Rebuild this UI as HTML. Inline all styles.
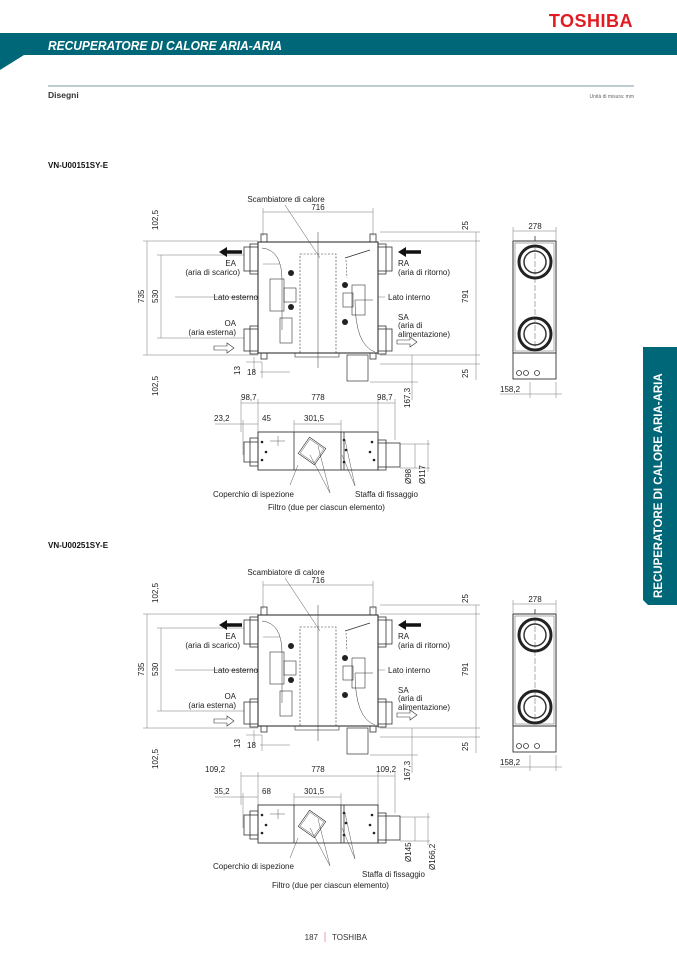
<!DOCTYPE html>
<html><head><meta charset="utf-8">
<style>
html,body{margin:0;padding:0;background:#fff;}
body{width:677px;height:958px;position:relative;overflow:hidden;font-family:"Liberation Sans",sans-serif;}
svg{position:absolute;left:0;top:0;}
</style></head><body>
<svg width="677" height="958" viewBox="0 0 677 958" xmlns="http://www.w3.org/2000/svg" font-family="Liberation Sans, sans-serif">
<defs>
  <g id="unit" stroke="#333" fill="none" stroke-width="0.8">
    <g stroke="#777" stroke-width="0.5">
      <line x1="263" y1="212" x2="373" y2="212"/>
      <line x1="263" y1="208" x2="263" y2="236"/><line x1="373" y1="208" x2="373" y2="236"/>
      <line x1="147" y1="241" x2="147" y2="355"/>
      <line x1="161" y1="255" x2="161" y2="338"/>
      <line x1="143" y1="241" x2="258" y2="241"/><line x1="143" y1="355" x2="258" y2="355"/>
      <line x1="157" y1="255" x2="244" y2="255"/><line x1="157" y1="338" x2="244" y2="338"/>
      <line x1="476" y1="232" x2="476" y2="380"/>
      <line x1="380" y1="232" x2="480" y2="232"/><line x1="380" y1="241" x2="480" y2="241"/>
      <line x1="380" y1="355" x2="480" y2="355"/><line x1="380" y1="364" x2="480" y2="364"/>
      <line x1="254" y1="357" x2="254" y2="372"/><line x1="246" y1="362" x2="262" y2="362"/>
      <line x1="260" y1="372" x2="290" y2="372"/><line x1="262" y1="362" x2="262" y2="378"/>
      <line x1="412" y1="355" x2="412" y2="400"/><line x1="370" y1="382" x2="418" y2="382"/>
      <line x1="263" y1="264" x2="280" y2="264"/>
      <line x1="175" y1="297" x2="258" y2="297"/>
      <line x1="378" y1="297" x2="385" y2="297"/>
      <line x1="241" y1="403" x2="395" y2="403"/>
      <line x1="241" y1="399" x2="241" y2="432"/><line x1="258" y1="399" x2="258" y2="432"/>
      <line x1="378" y1="399" x2="378" y2="432"/><line x1="395" y1="399" x2="395" y2="440"/>
      <line x1="215" y1="424" x2="258" y2="424"/><line x1="294" y1="424" x2="341" y2="424"/>
      <line x1="294" y1="420" x2="294" y2="432"/><line x1="341" y1="420" x2="341" y2="432"/>
      <line x1="243" y1="420" x2="243" y2="455"/>
      <line x1="400" y1="444" x2="430" y2="444"/><line x1="400" y1="468" x2="430" y2="468"/>
      <line x1="415" y1="444" x2="415" y2="468"/><line x1="428" y1="440" x2="428" y2="472"/>
    </g>
    <g stroke="#555" stroke-width="0.5">
      <line x1="285" y1="205" x2="320" y2="258"/>
      <line x1="290" y1="485" x2="298" y2="465"/>
      <line x1="330" y1="493" x2="310" y2="455"/><line x1="330" y1="493" x2="318" y2="446"/>
      <line x1="355" y1="486" x2="342" y2="455"/><line x1="355" y1="486" x2="345" y2="440"/>
    </g>
    <rect x="258" y="242" width="120" height="111" stroke-width="1.1"/>
    <rect x="261" y="234" width="6" height="8"/><rect x="370" y="234" width="6" height="8"/>
    <rect x="261" y="353" width="6" height="6"/><rect x="370" y="353" width="6" height="6"/>
    <rect x="244" y="247" width="14" height="24"/><rect x="250" y="244" width="8" height="30"/>
    <rect x="244" y="329" width="14" height="22"/><rect x="250" y="326" width="8" height="28"/>
    <rect x="378" y="247" width="14" height="24"/><rect x="378" y="244" width="8" height="30"/>
    <rect x="378" y="329" width="14" height="22"/><rect x="378" y="326" width="8" height="28"/>
    <rect x="300" y="254" width="36" height="99" stroke-dasharray="2,1.5" stroke-width="0.6"/>
    <line x1="318" y1="232" x2="318" y2="368" stroke-width="0.5"/>
    <path d="M262,248 Q282,250 282,280 L282,330" stroke-width="0.5"/>
    <path d="M373,300 L355,300 Q355,345 375,352" stroke-width="0.5"/>
    <rect x="270" y="279" width="14" height="32" stroke-width="0.6"/>
    <rect x="284" y="288" width="12" height="14" stroke-width="0.6"/>
    <rect x="280" y="318" width="12" height="25" stroke-width="0.6"/>
    <rect x="352" y="285" width="13" height="30" stroke-width="0.6"/>
    <rect x="343" y="293" width="10" height="14" stroke-width="0.6"/>
    <line x1="345" y1="258" x2="370" y2="250"/>
    <path d="M346,260 L347,278" stroke-dasharray="2,1.5" stroke-width="0.5"/>
    <g fill="#222" stroke="none">
      <circle cx="291" cy="273" r="3"/><circle cx="291" cy="307" r="3"/>
      <circle cx="345" cy="285" r="3"/><circle cx="345" cy="322" r="3"/>
    </g>
    <rect x="295" y="353" width="44" height="4" stroke-width="0.6"/>
    <rect x="347" y="355" width="21" height="26" stroke-width="0.7"/>
    <path d="M242,252 L226,252" stroke="#111" stroke-width="3.5"/>
    <path d="M219,252 L227,247 L227,257 Z" fill="#111" stroke="none"/>
    <path d="M405,252 L421,252" stroke="#111" stroke-width="3.5"/>
    <path d="M398,252 L406,247 L406,257 Z" fill="#111" stroke="none"/>
    <path d="M214,346 L227,346 L227,343 L234,348 L227,353 L227,350 L214,350 Z" stroke-width="0.6"/>
    <path d="M397,340 L410,340 L410,337 L417,342 L410,347 L410,344 L397,344 Z" stroke-width="0.6"/>
    <rect x="258" y="432" width="120" height="38" stroke-width="0.9"/>
    <line x1="294" y1="432" x2="294" y2="470"/><line x1="341" y1="432" x2="341" y2="470"/>
    <line x1="344" y1="432" x2="344" y2="470"/>
    <rect x="244" y="442" width="14" height="20"/><rect x="250" y="438" width="8" height="28"/>
    <rect x="378" y="443" width="22" height="24"/><rect x="378" y="440" width="8" height="30"/>
    <path d="M298,451 L312,437 L326,451 L312,465 Z" transform="rotate(-10 312 451)" stroke-width="0.6"/>
    <path d="M300,451 L312,439 L324,451 L312,463 Z" transform="rotate(-10 312 451)" stroke-width="0.4"/>
    <line x1="270" y1="441" x2="285" y2="441" stroke-width="0.4"/><line x1="278" y1="436" x2="278" y2="446" stroke-width="0.4"/>
    <g fill="#222" stroke="none">
      <circle cx="262" cy="442" r="1.3"/><circle cx="266" cy="452" r="1.3"/><circle cx="262" cy="460" r="1.3"/>
      <circle cx="344" cy="440" r="1.3"/><circle cx="346" cy="450" r="1.3"/><circle cx="344" cy="462" r="1.3"/>
      <circle cx="372" cy="442" r="1.3"/><circle cx="370" cy="452" r="1.3"/><circle cx="374" cy="460" r="1.3"/>
    </g>
    <g stroke="#777" stroke-width="0.5">
      <line x1="513" y1="231" x2="556" y2="231"/>
      <line x1="513" y1="227" x2="513" y2="240"/><line x1="556" y1="227" x2="556" y2="240"/>
      <line x1="500" y1="394" x2="562" y2="394"/>
      <line x1="530" y1="382" x2="530" y2="398"/><line x1="556" y1="382" x2="556" y2="398"/>
    </g>
    <rect x="513" y="241" width="43" height="112" stroke-width="1"/>
    <rect x="515" y="243" width="39" height="108" stroke-width="0.4"/>
    <rect x="513" y="353" width="43" height="26" stroke-width="0.9"/>
    <line x1="535" y1="236" x2="535" y2="241"/>
    <line x1="535" y1="245" x2="535" y2="350" stroke-width="0.4" stroke-dasharray="6,2"/>
    <circle cx="535" cy="262" r="16" stroke-width="3" stroke="#222"/>
    <circle cx="535" cy="262" r="11" stroke-width="1.5"/>
    <circle cx="535" cy="334" r="16" stroke-width="3" stroke="#222"/>
    <circle cx="535" cy="334" r="11" stroke-width="1.5"/>
    <circle cx="519" cy="373" r="2.5"/><circle cx="526" cy="373" r="2.5"/><circle cx="537" cy="373" r="2.5"/>
  </g>
</defs>

<text x="633" y="27" text-anchor="end" font-size="18" font-weight="bold" fill="#e21a22" letter-spacing="0.5">TOSHIBA</text>
<rect x="0" y="33" width="677" height="22" fill="#006778"/>
<path d="M0,55 L24,55 L0,70 Z" fill="#006778"/>
<text x="48" y="50" font-size="13" font-weight="bold" font-style="italic" fill="#fff" textLength="234" lengthAdjust="spacingAndGlyphs">RECUPERATORE DI CALORE ARIA-ARIA</text>
<line x1="48" y1="86" x2="634" y2="86" stroke="#7a9ea6" stroke-width="1"/>
<text x="48" y="98" font-size="8.5" font-weight="bold" fill="#333">Disegni</text>
<text x="634" y="98" text-anchor="end" font-size="5" fill="#666">Unità di misura: mm</text>

<path d="M643,347 L677,347 L677,605 L648,605 L643,600 Z" fill="#006778"/>
<text transform="translate(662,598) rotate(-90)" font-size="11.5" font-weight="bold" fill="#fff">RECUPERATORE DI CALORE ARIA-ARIA</text>

<text x="48" y="168" font-size="8" font-weight="bold" fill="#111">VN-U00151SY-E</text>
<use href="#unit"/>
<g font-size="8" fill="#222">
  <text x="286" y="202" text-anchor="middle">Scambiatore di calore</text>
  <text x="318" y="210" text-anchor="middle">716</text>
  <text transform="translate(158,230) rotate(-90)">102,5</text>
  <text transform="translate(144,303) rotate(-90)">735</text>
  <text transform="translate(158,303) rotate(-90)">530</text>
  <text transform="translate(158,396) rotate(-90)">102,5</text>
  <text transform="translate(468,230) rotate(-90)">25</text>
  <text transform="translate(468,303) rotate(-90)">791</text>
  <text transform="translate(468,378) rotate(-90)">25</text>
  <text x="236" y="266" text-anchor="end">EA</text>
  <text x="240" y="275" text-anchor="end">(aria di scarico)</text>
  <text x="398" y="266">RA</text>
  <text x="398" y="275">(aria di ritorno)</text>
  <text x="258" y="300" text-anchor="end">Lato esterno</text>
  <text x="388" y="300">Lato interno</text>
  <text x="236" y="326" text-anchor="end">OA</text>
  <text x="236" y="335" text-anchor="end">(aria esterna)</text>
  <text x="398" y="320">SA</text>
  <text x="398" y="328">(aria di</text>
  <text x="398" y="337">alimentazione)</text>
  <text transform="translate(240,375) rotate(-90)">13</text>
  <text x="247" y="375">18</text>
  <text transform="translate(410,408) rotate(-90)">167,3</text>
  <text x="241" y="400">98,7</text>
  <text x="318" y="400" text-anchor="middle">778</text>
  <text x="377" y="400">98,7</text>
  <text x="214" y="421">23,2</text>
  <text x="262" y="421">45</text>
  <text x="304" y="421">301,5</text>
  <text transform="translate(411,484) rotate(-90)">Ø98</text>
  <text transform="translate(425,484) rotate(-90)">Ø117</text>
  <text x="213" y="497">Coperchio di ispezione</text>
  <text x="355" y="497">Staffa di fissaggio</text>
  <text x="268" y="510">Filtro (due per ciascun elemento)</text>
  <text x="535" y="229" text-anchor="middle">278</text>
  <text x="500" y="392">158,2</text>
</g>

<text x="48" y="548" font-size="8" font-weight="bold" fill="#111">VN-U00251SY-E</text>
<use href="#unit" transform="translate(0,373)"/>
<g font-size="8" fill="#222">
  <text x="286" y="575" text-anchor="middle">Scambiatore di calore</text>
  <text x="318" y="583" text-anchor="middle">716</text>
  <text transform="translate(158,603) rotate(-90)">102,5</text>
  <text transform="translate(144,676) rotate(-90)">735</text>
  <text transform="translate(158,676) rotate(-90)">530</text>
  <text transform="translate(158,769) rotate(-90)">102,5</text>
  <text transform="translate(468,603) rotate(-90)">25</text>
  <text transform="translate(468,676) rotate(-90)">791</text>
  <text transform="translate(468,751) rotate(-90)">25</text>
  <text x="236" y="639" text-anchor="end">EA</text>
  <text x="240" y="648" text-anchor="end">(aria di scarico)</text>
  <text x="398" y="639">RA</text>
  <text x="398" y="648">(aria di ritorno)</text>
  <text x="258" y="673" text-anchor="end">Lato esterno</text>
  <text x="388" y="673">Lato interno</text>
  <text x="236" y="699" text-anchor="end">OA</text>
  <text x="236" y="708" text-anchor="end">(aria esterna)</text>
  <text x="398" y="693">SA</text>
  <text x="398" y="701">(aria di</text>
  <text x="398" y="710">alimentazione)</text>
  <text transform="translate(240,748) rotate(-90)">13</text>
  <text x="247" y="748">18</text>
  <text transform="translate(410,781) rotate(-90)">167,3</text>
  <text x="205" y="772">109,2</text>
  <text x="318" y="772" text-anchor="middle">778</text>
  <text x="376" y="772">109,2</text>
  <text x="214" y="794">35,2</text>
  <text x="262" y="794">68</text>
  <text x="304" y="794">301,5</text>
  <text transform="translate(411,862) rotate(-90)">Ø145</text>
  <text transform="translate(435,870) rotate(-90)">Ø166,2</text>
  <text x="213" y="869">Coperchio di ispezione</text>
  <text x="362" y="877">Staffa di fissaggio</text>
  <text x="272" y="888">Filtro (due per ciascun elemento)</text>
  <text x="535" y="602" text-anchor="middle">278</text>
  <text x="500" y="765">158,2</text>
</g>

<text x="318" y="940" text-anchor="end" font-size="8" fill="#333">187</text>
<line x1="325" y1="932" x2="325" y2="942" stroke="#e8a0a8" stroke-width="1"/>
<text x="332" y="940" font-size="8" fill="#333">TOSHIBA</text>
</svg>
</body></html>
